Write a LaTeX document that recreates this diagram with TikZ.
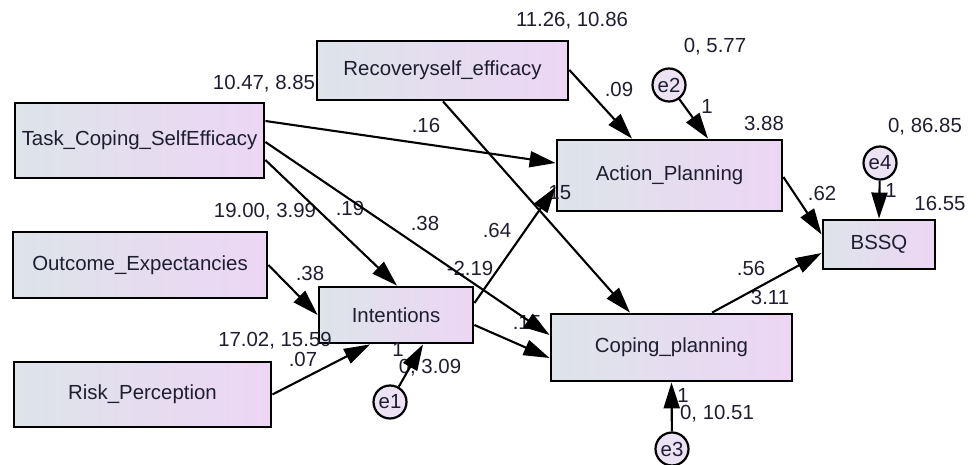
\documentclass[tikz,border=0pt]{standalone}
\usepackage{fontspec}
\setmainfont{Liberation Sans}
\usetikzlibrary{arrows.meta}
\definecolor{boxL}{HTML}{DDE4EA}
\definecolor{boxR}{HTML}{EDD6F4}
\definecolor{circF}{HTML}{ECE2F4}
\definecolor{txt}{HTML}{1E1E30}
\begin{document}
\begin{tikzpicture}[x=1pt,y=-1pt,
  font=\fontsize{20.4}{24}\selectfont,
  box/.style={draw=black, line width=2.8pt, left color=boxL, right color=boxR, inner sep=0pt, text=txt},
  err/.style={circle, draw=black, line width=2.2pt, fill=circF, minimum size=33pt, inner sep=0pt, text=txt},
  lbl/.style={inner sep=0pt, text=txt},
  arr/.style={line width=2.1pt, -{Triangle[length=26pt,width=16pt]}}
]
\useasboundingbox (0,0) rectangle (977,465);

% boxes
\node[box, minimum width=249pt, minimum height=75pt] (task) at (139.5,140.5) {Task\_Coping\_SelfEfficacy};
\node[box, minimum width=251pt, minimum height=59pt] (recov) at (442.5,70.5) {Recoveryself\_efficacy};
\node[box, minimum width=225pt, minimum height=71pt] (action) at (669.5,175.5) {Action\_Planning};
\node[box, minimum width=112pt, minimum height=49pt] (bssq) at (879,244.5) {BSSQ};
\node[box, minimum width=254pt, minimum height=66pt] (outcome) at (140,265) {Outcome\_Expectancies};
\node[box, minimum width=257pt, minimum height=65pt] (risk) at (142.5,394.5) {Risk\_Perception};
\node[box, minimum width=154pt, minimum height=56pt] (intent) at (396,315) {Intentions};
\node[box, minimum width=241pt, minimum height=67pt] (coping) at (671.5,347.5) {Coping\_planning};

% error terms
\node[err] (e1) at (390,402) {e1};
\node[err] (e2) at (669,85) {e2};
\node[err] (e3) at (672,449) {e3};
\node[err] (e4) at (880,163) {e4};

% labels
\node[lbl] (l1) at (264,84) {10.47, 8.85};
\node[lbl] (l2) at (265,212) {19.00, 3.99};
\node[lbl] (l3) at (572,21) {11.26, 10.86};
\node[lbl] (l4) at (619,89) {.09};
\node[lbl] (l5) at (426,125) {.16};
\node[lbl] (l6) at (557,193) {.15};
\node[lbl] (l7) at (350,208) {.19};
\node[lbl] (l8) at (425,223) {.38};
\node[lbl] (l9) at (497,230) {.64};
\node[lbl] (l10) at (715,47) {0, 5.77};
\node[lbl] (l11) at (707,106) {1};
\node[lbl] (l12) at (764,123) {3.88};
\node[lbl] (l13) at (925,127) {0, 86.85};
\node[lbl] (l14) at (822,193) {.62};
\node[lbl] (l15) at (891,190) {1};
\node[lbl] (l16) at (940,203) {16.55};
\node[lbl] (l17) at (310,273) {.38};
\node[lbl] (l18) at (275,341) {17.02, 15.59};
\node[lbl] (l19) at (303,359) {.07};
\node[lbl] (l20) at (470,268) {-2.19};
\node[lbl] (l21) at (527,323) {.15};
\node[lbl] (l22) at (398,349) {1};
\node[lbl] (l23) at (430,368) {0, 3.09};
\node[lbl] (l24) at (751,268) {.56};
\node[lbl] (l25) at (770,297) {3.11};
\node[lbl] (l26) at (683,395) {1};
\node[lbl] (l27) at (717,414) {0, 10.51};

% paths
\draw[arr] ([yshift=19.5pt]task.east) -- ([yshift=12.5pt]action.west);
\draw[arr] ([yshift=-1.5pt]task.east) -- ([yshift=12.5pt]coping.west);
\draw[arr] ([yshift=-19.5pt]task.east) -- ([xshift=1pt]intent.north);
\draw[arr] ([yshift=0.5pt]recov.east) -- ([xshift=-37.5pt]action.north);
\draw[arr] ([xshift=0.5pt]recov.south) -- ([xshift=-41.5pt]coping.north);
\draw[arr] (outcome.east) -- (intent.west);
\draw[arr] (risk.east) -- ([xshift=-26pt]intent.south);
\draw[arr] ([yshift=12pt]intent.east) -- ([yshift=-11.5pt]action.west);
\draw[arr] ([yshift=-10pt]intent.east) -- ([yshift=-10.5pt]coping.west);
\draw[arr] (e1) -- ([xshift=27pt]intent.south);
\draw[arr] (e2) -- ([xshift=38.5pt]action.north);
\draw[arr] ([yshift=-1.5pt]action.east) -- ([yshift=10pt]bssq.west);
\draw[arr] (e4) -- (bssq.north);
\draw[arr] ([xshift=40.5pt]coping.north) -- ([yshift=-8.5pt]bssq.west);
\draw[arr] (e3) -- (coping.south);
\end{tikzpicture}
\end{document}
